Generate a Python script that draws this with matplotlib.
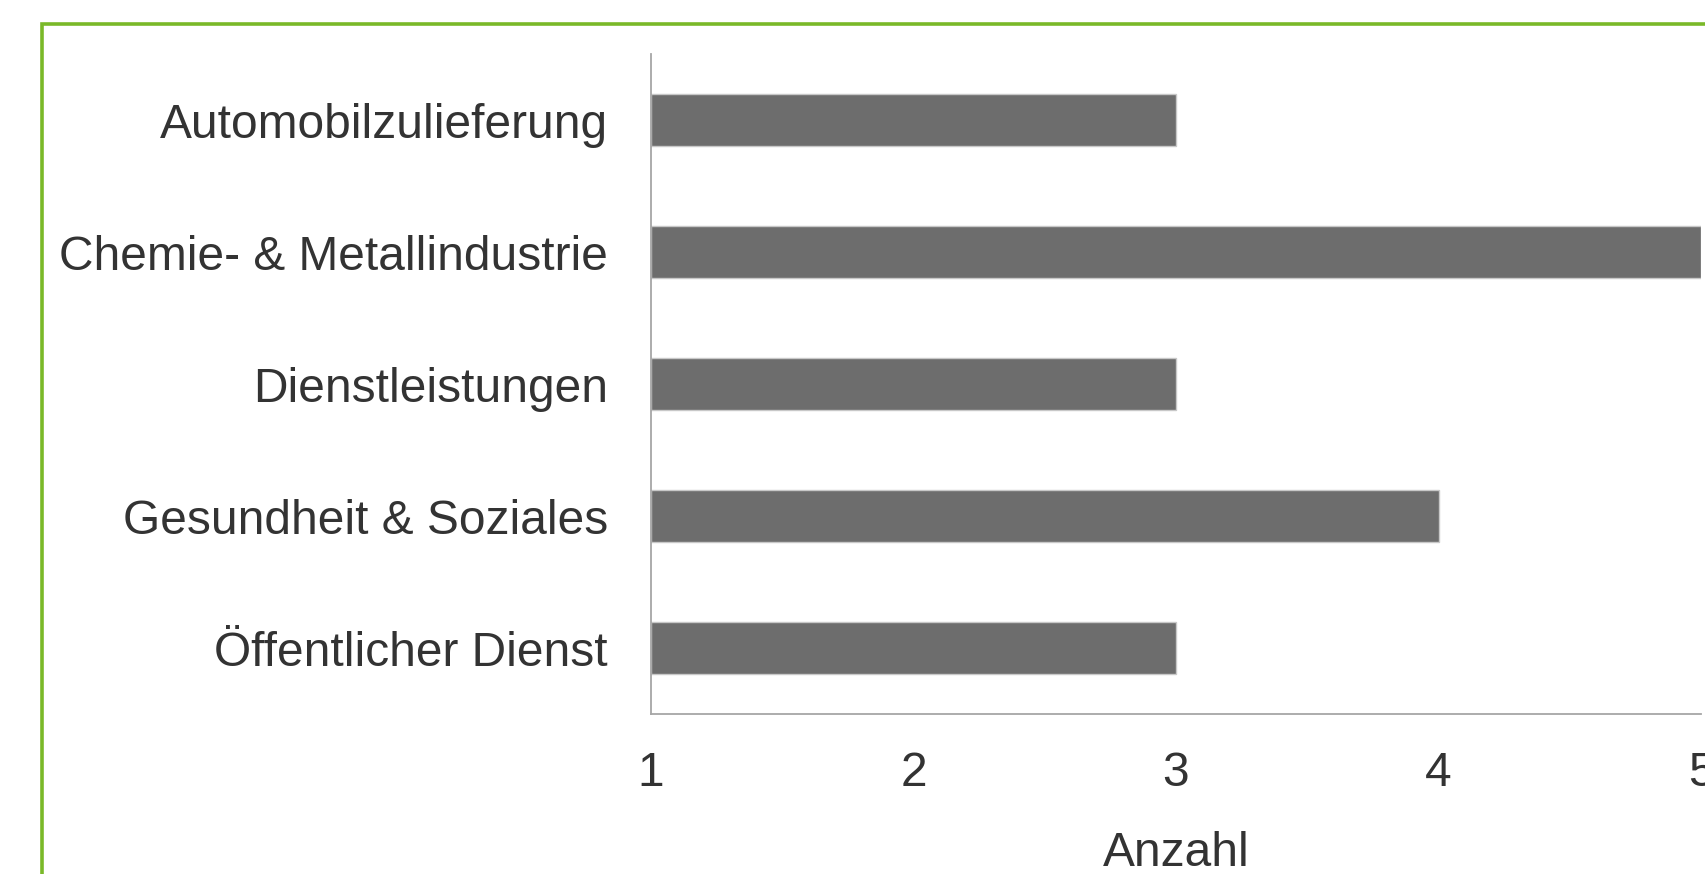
import matplotlib
matplotlib.use('Agg')
import matplotlib.pyplot as plt
from matplotlib.patches import Rectangle

branchen = ['Automobilzulieferung',
            'Chemie- & Metallindustrie',
            'Dienstleistungen',
            'Gesundheit & Soziales',
            'Öffentlicher Dienst']
anzahl = [3, 5, 3, 4, 3]
x_ticks = [1, 2, 3, 4, 5]

plt.rcParams['font.family'] = ['Liberation Sans', 'DejaVu Sans']

W, H = 1706, 874
fig = plt.figure(figsize=(W / 100, H / 100), dpi=100)

# gruener Rahmen (laeuft rechts und unten aus dem Bild)
fig.patches.append(Rectangle((42 / W, -0.05), 1.1, 1 - 24 / H + 0.05,
                             transform=fig.transFigure, fill=False,
                             edgecolor='#7ab929', linewidth=2.6))

ax = fig.add_axes([651 / W, 1 - 714 / H, (1701 - 651) / W, (714 - 54) / H])

pos = list(range(len(branchen)))
ax.barh(pos, [v - 1 for v in anzahl], left=1, height=0.39,
        color='#6d6d6d', edgecolor='#c8c8c8', linewidth=1)

ax.set_ylim(len(branchen) - 0.5, -0.5)
ax.set_xlim(1, 5)
ax.set_yticks(pos)
ax.set_yticklabels(branchen)
ax.set_xticks(x_ticks)
ax.set_xticklabels([str(t) for t in x_ticks])
ax.tick_params(length=0, labelsize=34.5, colors='#333333')
ax.tick_params(axis='y', pad=31)
ax.tick_params(axis='x', pad=27)
ax.set_xlabel('Anzahl', fontsize=34.5, color='#333333', labelpad=25)

for s in ['top', 'right']:
    ax.spines[s].set_visible(False)
for s in ['left', 'bottom']:
    ax.spines[s].set_color('#a6a6a6')
    ax.spines[s].set_linewidth(1.3)

fig.savefig('out.png', dpi=100)
